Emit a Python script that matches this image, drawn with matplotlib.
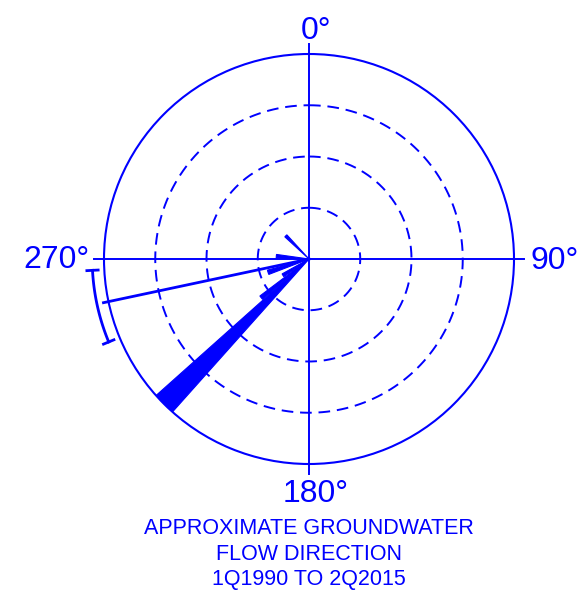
import numpy as np
import matplotlib
matplotlib.use("Agg")
from matplotlib import pyplot as plt

plt.rcParams['font.family'] = ['Liberation Sans', 'DejaVu Sans']

# petal directions (bearing, deg) and lengths (rings of 1 unit, outer ring = 4)
petal_dir = [315, 275, 252, 238, 231, 225]
petal_len = [0.64, 0.64, 0.84, 0.60, 1.2, 4.0]
petal_wid = [5, 6, 6, 6, 4, 6.5]

# mean flow direction and its spread
mean_dir = 258
mean_len = 4.1
spread_lo = 247.5
spread_hi = 267

ring_vals = [1, 2, 3]
axis_labels = ["0°", "90°", "180°", "270°"]
title_lines = ["APPROXIMATE GROUNDWATER", "FLOW DIRECTION", "1Q1990 TO 2Q2015"]

blue = "#0000ff"

fig = plt.figure(figsize=(5.88, 6.03), dpi=100)
ax = fig.add_axes([104/588, 139/603, 410/588, 410/603], projection="polar")
ax.set_theta_zero_location("N")
ax.set_theta_direction(-1)
ax.set_ylim(0, 4)
ax.set_xticks([])
ax.set_yticks([])
ax.grid(False)
ax.spines["polar"].set_color(blue)
ax.spines["polar"].set_linewidth(1.5)

# dashed rings
t = np.linspace(0, 2*np.pi, 400)
for r in ring_vals:
    ax.plot(t, np.full_like(t, r), color=blue, lw=1.4, ls=(0, (6, 3.5)))

# cross lines
for a in [0, 90, 180, 270]:
    ax.plot([np.radians(a)]*2, [0, 4.2], color=blue, lw=1.4, clip_on=False)

# petals
ax.bar(np.radians(petal_dir), petal_len, width=np.radians(petal_wid),
       color=blue, edgecolor=blue, lw=0.8, zorder=3)

# mean direction line with spread arc
ax.plot([np.radians(mean_dir)]*2, [0, mean_len], color=blue, lw=2, clip_on=False, zorder=4)
arc = np.radians(np.linspace(spread_lo, spread_hi, 50))
ax.plot(arc, np.full_like(arc, 4.23), color=blue, lw=2, clip_on=False)
for a in [spread_lo, spread_hi]:
    ax.plot([np.radians(a)]*2, [4.12, 4.34], color=blue, lw=2, clip_on=False)

# direction labels
lab_pos = [(0.517, 1.057), (1.098, 0.495), (0.517, -0.072), (-0.117, 0.497)]
for s, (x, y) in zip(axis_labels, lab_pos):
    ax.text(x, y, s, transform=ax.transAxes, ha="center", va="center",
            fontsize=23, color=blue)

for i, s in enumerate(title_lines):
    fig.text(309/588, 1 - (529 + 25*i)/603, s, ha="center", va="center",
             fontsize=15.5, color=blue)

fig.savefig("out.png", dpi=100)
